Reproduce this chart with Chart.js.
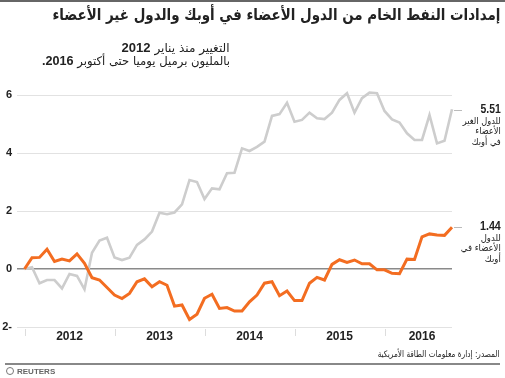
<!DOCTYPE html>
<html>
<head>
<meta charset="utf-8">
<script src="https://cdn.jsdelivr.net/npm/chart.js@4.4.1/dist/chart.umd.min.js"></script>
<style>
  body { margin: 0; background: #fff; }
  #wrap { position: relative; width: 505px; height: 378px; overflow: hidden; font-family: "DejaVu Sans", "Liberation Sans", sans-serif; color: #222; }
  #wrap canvas { position: absolute; left: 0; top: 0; }
  .txt { position: absolute; direction: rtl; white-space: nowrap; transform-origin: right center; }
  #topline { position: absolute; left: 0; top: 0; width: 505px; height: 2px; background: #666; }
  #botline { position: absolute; left: 5px; top: 363px; width: 495px; height: 2px; background: #888; }
  #title { right: 5px; top: 5px; font-size: 16px; font-weight: bold; }
  .sub { right: 275px; font-size: 12px; }
  .sub b { font-family: "Liberation Sans", sans-serif; font-size: 13px; }
  .lab { right: 4px; font-size: 9.5px; line-height: 10.5px; text-align: right; }
  .lab b { font-family: "Liberation Sans", sans-serif; font-size: 12px; }
  .dash { position: absolute; left: 454px; width: 8px; height: 1px; background: #bbb; }
  #src { right: 5px; top: 349px; font-size: 9px; }
  #logo { position: absolute; left: 6px; top: 367px; font-family: "Liberation Sans", sans-serif; font-size: 8px; font-weight: bold; color: #666; }
  #logo span { display: inline-block; width: 8px; height: 8px; border-radius: 50%; border: 1.5px solid #777; box-sizing: border-box; vertical-align: -1px; margin-right: 3px; }
</style>
</head>
<body>
<div id="wrap">
  <canvas id="chart" width="505" height="378"></canvas>
  <div id="topline"></div>
  <div id="botline"></div>
  <div class="txt" id="title" data-w="448">إمدادات النفط الخام من الدول الأعضاء في أوبك والدول غير الأعضاء</div>
  <div class="txt sub" style="top:40px" data-w="108">التغيير منذ يناير <b>2012</b></div>
  <div class="txt sub" style="top:53px" data-w="188">بالمليون برميل يوميا حتى أكتوبر <b>2016.</b></div>
  <div class="txt lab" style="top:104px" data-w="38"><b>5.51</b><br>للدول الغير<br>الأعضاء<br>في أوبك</div>
  <div class="txt lab" style="top:221px" data-w="40"><b>1.44</b><br>للدول<br>الأعضاء في<br>أوبك</div>
  <div class="dash" style="top:110px"></div>
  <div class="dash" style="top:227px"></div>
  <div class="txt" id="src" data-w="122">المصدر: إدارة معلومات الطاقة الأمريكية</div>
  <div id="logo"><span></span>REUTERS</div>
</div>
<script>
// months Jan 2012 .. Oct 2016
let years = ['2012', '2013', '2014', '2015', '2016'];
let yearLabelPos = [6, 18, 30, 42, 53];
let yearStarts = [0, 12, 24, 36, 48];

// OPEC change, million bpd
let opec = [
  0, 0.39, 0.40, 0.68, 0.26, 0.34, 0.28, 0.52, 0.20, -0.30, -0.38, -0.64,
  -0.90, -1.02, -0.84, -0.44, -0.34, -0.61, -0.44, -0.56, -1.28, -1.24, -1.74, -1.56,
  -1.01, -0.87, -1.36, -1.33, -1.45, -1.45, -1.13, -0.90, -0.49, -0.44, -0.92, -0.76,
  -1.09, -1.09, -0.49, -0.29, -0.38, 0.16, 0.32, 0.23, 0.31, 0.18, 0.18, -0.03,
  -0.03, -0.15, -0.16, 0.34, 0.33, 1.11, 1.21, 1.17, 1.16, 1.44
];

// non-OPEC change, million bpd
let nonOpec = [
  0, 0.06, -0.49, -0.38, -0.38, -0.67, -0.17, -0.24, -0.70, 0.56, 0.98, 1.08,
  0.40, 0.31, 0.39, 0.83, 1.02, 1.29, 1.94, 1.89, 1.95, 2.23, 3.07, 3.00,
  2.41, 2.78, 2.75, 3.30, 3.32, 4.16, 4.07, 4.21, 4.39, 5.28, 5.34, 5.73,
  5.08, 5.14, 5.39, 5.20, 5.17, 5.39, 5.83, 6.06, 5.39, 5.89, 6.08, 6.06,
  5.45, 5.16, 5.05, 4.68, 4.45, 4.45, 5.31, 4.33, 4.42, 5.51
];

let yTicks = [-2, 0, 2, 4, 6];

//SQUEEZE ARABIC TEXT TO THE REFERENCE WIDTHS
document.querySelectorAll('[data-w]').forEach(el => {
  let w = el.getBoundingClientRect().width;
  let target = Number(el.dataset.w);
  el.style.transform = 'scaleX(' + (target / w) + ')';
});

function toPoints(arr) {
  return arr.map((v, i) => ({ x: i, y: v }));
}

//YEAR TICK MARKS
let yearMarks = {
  id: 'yearMarks',
  afterDraw(chart) {
    let ctx = chart.ctx;
    let xs = chart.scales.x;
    let bottom = chart.chartArea.bottom;
    ctx.save();
    ctx.strokeStyle = '#ddd';
    ctx.lineWidth = 1;
    yearStarts.forEach(m => {
      let px = Math.round(xs.getPixelForValue(m)) + 0.5;
      ctx.beginPath();
      ctx.moveTo(px, bottom + 2);
      ctx.lineTo(px, bottom + 9);
      ctx.stroke();
    });
    ctx.restore();
  }
};

let canvas = document.getElementById('chart');

let config = {
  type: 'line',
  data: {
    datasets: [
      {
        label: 'OPEC',
        data: toPoints(opec),
        borderColor: '#f36d21',
        borderWidth: 3,
        pointRadius: 0,
        tension: 0,
        clip: false
      },
      {
        label: 'non-OPEC',
        data: toPoints(nonOpec),
        borderColor: '#cdcdcd',
        borderWidth: 2.6,
        pointRadius: 0,
        tension: 0,
        clip: false
      }
    ]
  },
  options: {
    responsive: false,
    animation: false,
    layout: { padding: { top: 95, right: 53, left: 0, bottom: 0 } },
    plugins: { legend: { display: false }, tooltip: { enabled: false } },
    scales: {
      x: {
        type: 'linear',
        min: -1,
        max: 57,
        afterBuildTicks(scale) {
          scale.ticks = yearLabelPos.map(v => ({ value: v }));
        },
        afterFit(scale) { scale.height = 51; },
        grid: { display: false, drawTicks: false },
        border: { display: false },
        ticks: {
          autoSkip: false,
          maxRotation: 0,
          padding: 2,
          color: '#222',
          font: { family: 'Liberation Sans', size: 12, weight: 'bold' },
          callback: function (v) {
            let i = yearLabelPos.indexOf(v);
            return i >= 0 ? years[i] : '';
          }
        }
      },
      y: {
        min: -2,
        max: 6,
        afterBuildTicks(scale) {
          scale.ticks = yTicks.map(v => ({ value: v }));
        },
        afterFit(scale) { scale.width = 17; },
        grid: {
          drawTicks: false,
          color: ctx => ctx.tick && ctx.tick.value === 0 ? '#8a8a8a' : '#e2e2e2',
          lineWidth: ctx => ctx.tick && ctx.tick.value === 0 ? 1.5 : 1
        },
        border: { display: false },
        ticks: {
          padding: 5,
          color: '#222',
          font: { family: 'Liberation Sans', size: 11, weight: 'bold' },
          callback: v => v < 0 ? Math.abs(v) + '-' : String(v)
        }
      }
    }
  },
  plugins: [yearMarks]
};

let lineChart = new Chart(canvas, config);
</script>
</body>
</html>
